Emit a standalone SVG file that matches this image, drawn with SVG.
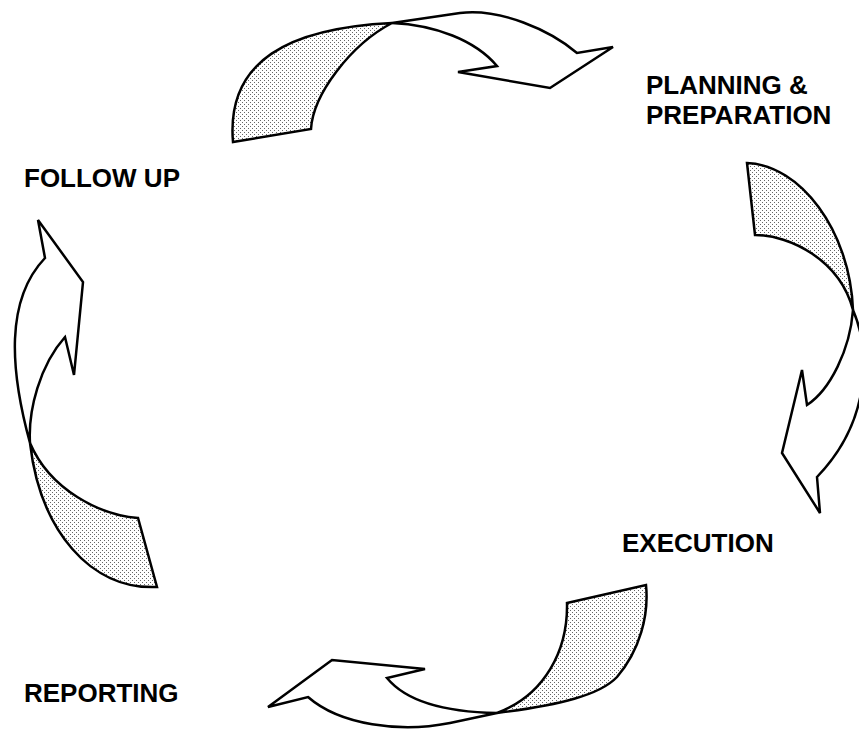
<svg xmlns="http://www.w3.org/2000/svg" width="859" height="730" viewBox="0 0 859 730">
<defs>
<pattern id="dots" patternUnits="userSpaceOnUse" width="4" height="4">
<rect width="4" height="4" fill="#ffffff"/>
<rect x="0" y="0" width="1" height="1" fill="#666"/>
<rect x="2" y="2" width="1" height="1" fill="#666"/>
</pattern>
</defs>
<style>
.shade{fill:url(#dots);stroke:#000;stroke-width:2.5;stroke-linejoin:miter}
.plain{fill:#fff;stroke:#000;stroke-width:2.5;stroke-linejoin:miter}
.lbl{font-family:"Liberation Sans",Arial,sans-serif;font-weight:bold;font-size:26px;fill:#000}
</style>
<rect width="859" height="730" fill="#fff"/>
<g id="connectors">
<g id="arrow-top">
<path class="plain" d="M392,23 L460,13 C500,8 550,30 577,53 L613,47 L550,88 L458,72 L497,66 C475,40 435,25 392,23 Z"/>
<path class="shade" d="M233,142 C226,60 290,28 392,23 C350,45 313,95 311,129 Z"/>
</g>
<g id="arrow-right">
<path class="plain" d="M853,310 C870,350 872,420 817,477 L820,513 L782,453 L802,370 L807,405 C830,390 850,350 853,310 Z"/>
<path class="shade" d="M747,163 C800,165 850,230 853,310 C840,260 790,235 755,235 Z"/>
</g>
<g id="arrow-bottom">
<path class="plain" d="M497,713 L450,723 C400,733 340,725 308,697 L268,707 L332,660 L425,669 L387,678 C405,700 440,712 497,713 Z"/>
<path class="shade" d="M567,603 L646,585 C649,615 640,650 617,677 C600,695 560,705 497,713 C545,695 568,650 567,603 Z"/>
</g>
<g id="arrow-left">
<path class="plain" d="M30,443 C10,370 5,300 45,258 L38,220 L83,282 L74,375 L65,337 C40,365 28,410 30,443 Z"/>
<path class="shade" d="M157,587 L138,518 C100,515 50,490 30,443 C40,530 90,590 157,587 Z"/>
</g>
</g>
<g id="node-planning">
<text class="lbl" x="646" y="94">PLANNING &amp;</text>
<text class="lbl" x="646" y="124">PREPARATION</text>
</g>
<g id="node-execution">
<text class="lbl" x="622" y="552">EXECUTION</text>
</g>
<g id="node-reporting">
<text class="lbl" x="24" y="702">REPORTING</text>
</g>
<g id="node-followup">
<text class="lbl" x="24" y="187">FOLLOW UP</text>
</g>
</svg>
